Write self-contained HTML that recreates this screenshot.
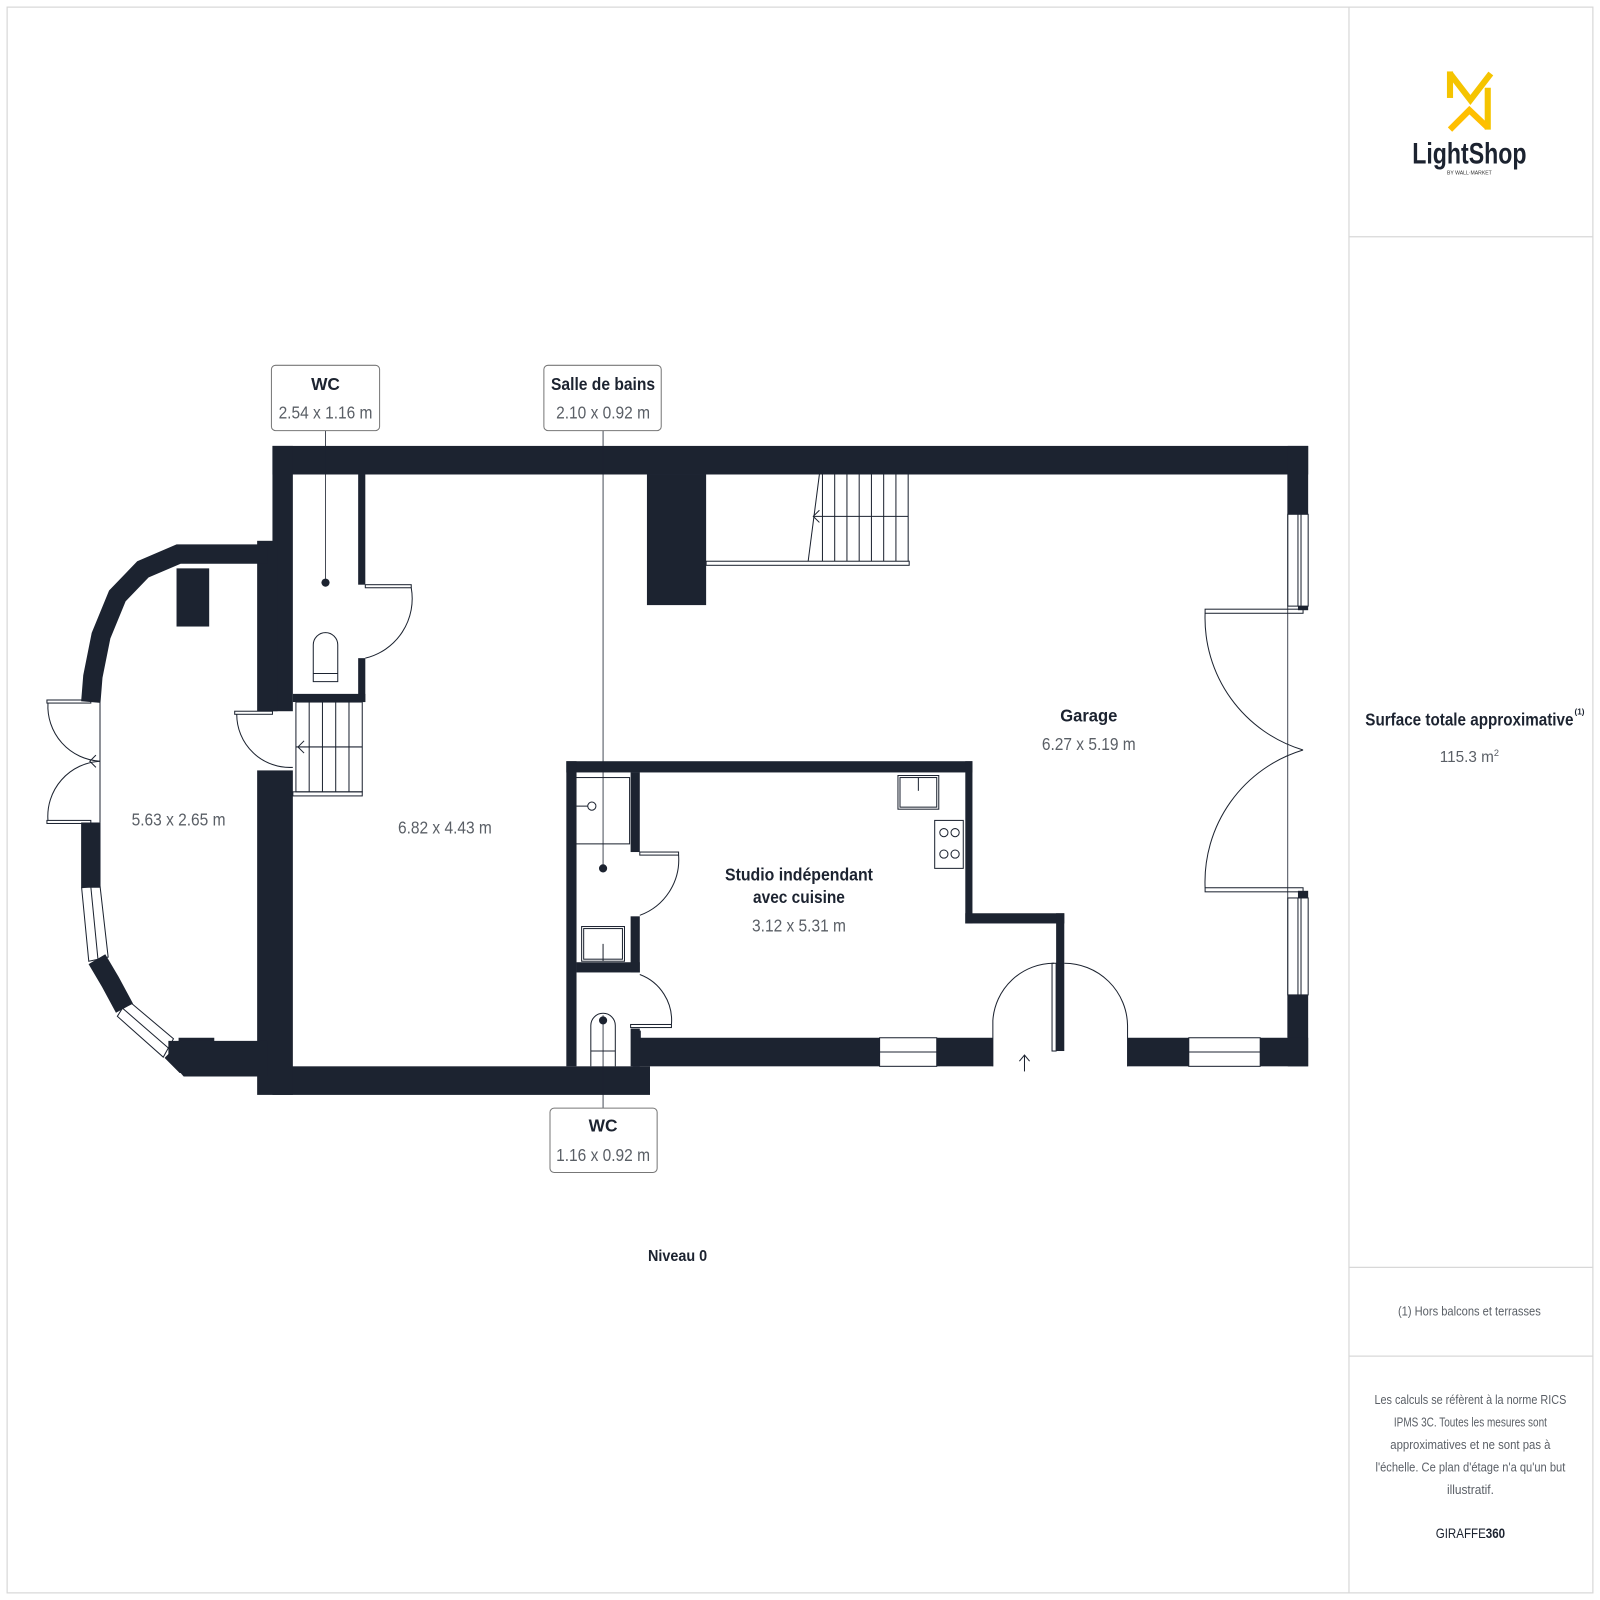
<!DOCTYPE html>
<html><head><meta charset="utf-8"><style>
html,body{margin:0;padding:0;background:#fff;width:1600px;height:1600px;overflow:hidden}
svg{display:block}
text{font-family:"Liberation Sans",sans-serif}
.b{font-weight:bold;fill:#1c2330}
.g{fill:#5a5f66}
</style></head><body>
<svg width="1600" height="1600" viewBox="0 0 1568 1568" xmlns="http://www.w3.org/2000/svg">
<rect x="7" y="7" width="1554" height="1554" fill="#fff" stroke="#d8d8d8" stroke-width="1.2"/>
<line x1="1322" y1="7" x2="1322" y2="1561" stroke="#d8d8d8" stroke-width="1.2"/>
<line x1="1322" y1="232" x2="1561" y2="232" stroke="#d8d8d8" stroke-width="1.2"/>
<line x1="1322" y1="1242" x2="1561" y2="1242" stroke="#d8d8d8" stroke-width="1.2"/>
<line x1="1322" y1="1329" x2="1561" y2="1329" stroke="#d8d8d8" stroke-width="1.2"/>

<!-- logo -->
<g fill="none" stroke="#f5c400" stroke-width="6" stroke-linejoin="miter">
<path d="M1421,70 L1421,96"/>
<path d="M1421,72 L1441,98 L1461,72"/>
<path d="M1458,86 L1458,127"/>
<path d="M1421,127 L1440,108 L1458,125" stroke="#ffbf00"/>
</g>
<text x="1440" y="160" text-anchor="middle" font-size="29" font-weight="bold" fill="#1c2330" textLength="112" lengthAdjust="spacingAndGlyphs">LightShop</text>
<text x="1440" y="171" text-anchor="middle" font-size="5" fill="#333">BY WALL·MARKET</text>

<text x="1440" y="711" text-anchor="middle" font-size="17" class="b" textLength="204" lengthAdjust="spacingAndGlyphs">Surface totale approximative</text>
<text x="1543" y="700" font-size="8" class="b">(1)</text>
<text x="1440" y="747" text-anchor="middle" font-size="15" class="g">115.3 m<tspan font-size="9" dy="-6">2</tspan></text>
<text x="1440" y="1289" text-anchor="middle" font-size="13" class="g" textLength="140" lengthAdjust="spacingAndGlyphs">(1) Hors balcons et terrasses</text>
<g font-size="13" class="g" text-anchor="middle">
<text x="1441" y="1376" textLength="188" lengthAdjust="spacingAndGlyphs">Les calculs se réfèrent à la norme RICS</text>
<text x="1441" y="1398" textLength="150" lengthAdjust="spacingAndGlyphs">IPMS 3C. Toutes les mesures sont</text>
<text x="1441" y="1420" textLength="157" lengthAdjust="spacingAndGlyphs">approximatives et ne sont pas à</text>
<text x="1441" y="1442" textLength="186" lengthAdjust="spacingAndGlyphs">l'échelle. Ce plan d'étage n'a qu'un but</text>
<text x="1441" y="1464" textLength="46" lengthAdjust="spacingAndGlyphs">illustratif.</text>
</g>
<text x="1441" y="1507" text-anchor="middle" font-size="14" fill="#1c2330" textLength="68" lengthAdjust="spacingAndGlyphs">GIRAFFE<tspan font-weight="bold">360</tspan></text>

<!-- walls -->
<g fill="#1c2330">
<rect x="267" y="437" width="1015" height="28"/>
<rect x="1262" y="437" width="20" height="67"/>
<rect x="1272" y="590" width="10" height="8"/>
<rect x="1272" y="873" width="10" height="8"/>
<rect x="1262" y="975" width="20" height="70"/>
<rect x="620" y="1017" width="242" height="28"/>
<rect x="918" y="1017" width="55" height="28"/>
<rect x="1105" y="1017" width="60" height="28"/>
<rect x="1235" y="1017" width="47" height="28"/>
<rect x="267" y="1045" width="370" height="28"/>
<rect x="620" y="1010" width="8" height="10"/>
<rect x="267" y="437" width="20" height="260"/>
<rect x="252" y="530" width="20" height="167"/>
<rect x="252" y="755" width="35" height="318"/>
<rect x="351" y="465" width="7" height="108"/>
<rect x="351" y="645" width="7" height="43"/>
<rect x="287" y="680" width="71" height="8"/>
<rect x="634" y="465" width="58" height="128"/>
<rect x="555" y="746" width="398" height="11"/>
<rect x="555" y="746" width="10" height="299"/>
<rect x="946" y="746" width="7" height="159"/>
<rect x="946" y="895" width="97" height="10"/>
<rect x="1035" y="895" width="8" height="135"/>
<rect x="618" y="757" width="9" height="78"/>
<rect x="618" y="898" width="9" height="55"/>
<rect x="565" y="943" width="62" height="10"/>
<rect x="618" y="1008" width="9" height="37"/>
<rect x="173" y="557" width="32" height="57"/>
<rect x="175" y="1017" width="35" height="12"/>
</g>
<!-- bay wall -->
<g fill="none" stroke="#1c2330" stroke-width="19" stroke-linejoin="miter">
<polyline points="262,543 175,543 140,558 115,584 99,623 91,663 89,688"/>
<polyline points="89,806 89,870"/>
<polyline points="95,940 108,962 122,988"/>
<polyline points="168,1030 180,1042 262,1042"/>
</g>
<polygon points="165,1020 262,1020 262,1055 180,1055 165,1038" fill="#1c2330"/>
<!-- bay windows -->
<g fill="none" stroke="#1c2330" stroke-width="1">
<polygon points="80,870 98,868 106,938 87,942"/>
<line x1="89" y1="869" x2="96" y2="940"/>
<polygon points="125,980 170,1018 160,1036 115,996"/>
<line x1="120" y1="988" x2="165" y2="1027"/>
</g>

<!-- windows on right and bottom -->
<g fill="#fff" stroke="#1c2330" stroke-width="1">
<rect x="1262" y="504" width="20" height="90"/>
<rect x="1262" y="880" width="20" height="95"/>
<rect x="862" y="1017" width="56" height="28"/>
<rect x="1165" y="1017" width="70" height="28"/>
</g>
<g stroke="#1c2330" stroke-width="1" fill="none">
<line x1="1272" y1="504" x2="1272" y2="594"/><line x1="1275" y1="504" x2="1275" y2="594"/>
<line x1="1272" y1="880" x2="1272" y2="975"/><line x1="1275" y1="880" x2="1275" y2="975"/>
<line x1="862" y1="1031" x2="918" y2="1031"/>
<line x1="1165" y1="1031" x2="1235" y2="1031"/>
<line x1="1262" y1="465" x2="1262" y2="1017" stroke-width="0.8"/>
<rect x="1181" y="597" width="96" height="4"/>
<rect x="1181" y="870" width="96" height="4"/>
<path d="M1181,601 A135,135 0 0 0 1277,735"/>
<path d="M1181,870 A135,135 0 0 1 1277,735"/>
<path d="M973,1045 L973,1000 A60,60 0 0 1 1033,944"/>
<path d="M1105,1045 L1105,1005 A62,62 0 0 0 1043,944"/>
<rect x="1031" y="944" width="4" height="86"/>
<line x1="1004" y1="1050" x2="1004" y2="1034"/><polyline points="999,1040 1004,1034 1009,1040"/>
<rect x="627" y="835" width="38" height="3"/>
<path d="M665,838 A58,58 0 0 1 627,897"/>
<rect x="618" y="1004" width="40" height="3"/>
<path d="M658,1004 A48,48 0 0 0 627,955"/>
<rect x="358" y="573" width="45" height="3"/>
<path d="M403,576 A60,60 0 0 1 358,645"/>
<rect x="230" y="697" width="37" height="3"/>
<path d="M232,700 A52,52 0 0 0 287,752"/>
<rect x="46" y="686" width="43" height="3"/>
<rect x="46" y="804" width="43" height="3"/>
<line x1="98" y1="688" x2="98" y2="806"/>
<path d="M47,689 A54,54 0 0 0 98,746"/>
<path d="M47,804 A54,54 0 0 1 98,746"/>
<polyline points="94,740 88,746 94,752"/>
<rect x="290" y="688" width="65" height="88"/>
<rect x="287" y="776" width="68" height="4"/>
<line x1="303" y1="688" x2="303" y2="776"/><line x1="316" y1="688" x2="316" y2="776"/><line x1="329" y1="688" x2="329" y2="776"/><line x1="342" y1="688" x2="342" y2="776"/>
<line x1="290" y1="732" x2="355" y2="732"/>
<polyline points="298,726 292,732 298,738"/>
<rect x="692" y="550" width="199" height="4"/>
<line x1="803" y1="465" x2="792" y2="550"/>
<line x1="806" y1="465" x2="806" y2="550"/><line x1="818" y1="465" x2="818" y2="550"/><line x1="830" y1="465" x2="830" y2="550"/><line x1="842" y1="465" x2="842" y2="550"/><line x1="854" y1="465" x2="854" y2="550"/><line x1="866" y1="465" x2="866" y2="550"/><line x1="878" y1="465" x2="878" y2="550"/><line x1="890" y1="465" x2="890" y2="550"/>
<line x1="798" y1="506" x2="890" y2="506"/>
<polyline points="803,500 797,506 803,512"/>
<path d="M307,668 L307,632 A12,12 0 0 1 331,632 L331,668 Z"/>
<line x1="307" y1="660" x2="331" y2="660"/>
<path d="M579,1045 L579,1005 A12,12 0 0 1 603,1005 L603,1045"/>
<line x1="579" y1="1030" x2="603" y2="1030"/>
<rect x="563" y="762" width="54" height="65"/>
<circle cx="580" cy="790" r="4"/><line x1="565" y1="790" x2="576" y2="790"/>
<rect x="570" y="908" width="42" height="34"/><rect x="572" y="910" width="38" height="30"/>
<line x1="591" y1="925" x2="591" y2="942"/>
<rect x="880" y="760" width="40" height="33"/><rect x="882" y="762" width="36" height="29"/>
<line x1="900" y1="762" x2="900" y2="775"/>
<rect x="916" y="804" width="28" height="47"/>
<circle cx="925" cy="816" r="4"/><circle cx="936" cy="816" r="4"/><circle cx="925" cy="837" r="4"/><circle cx="936" cy="837" r="4"/>
<line x1="319" y1="422" x2="319" y2="570" stroke-width="0.8"/>
<line x1="591" y1="422" x2="591" y2="850" stroke-width="0.8"/>
<line x1="591" y1="995" x2="591" y2="1086" stroke-width="0.8"/>
</g>
<circle cx="319" cy="571" r="4" fill="#1c2330"/>
<circle cx="591" cy="851" r="4" fill="#1c2330"/>
<circle cx="591" cy="1000" r="4" fill="#1c2330"/>

<g fill="#fff" stroke="#777" stroke-width="1">
<rect x="266" y="358" width="106" height="64" rx="4"/>
<rect x="533" y="358" width="115" height="64" rx="4"/>
<rect x="539" y="1086" width="105" height="63" rx="4"/>
</g>
<g text-anchor="middle">
<text x="319" y="382" font-size="17" class="b">WC</text>
<text x="319" y="410" font-size="17" class="g" textLength="92" lengthAdjust="spacingAndGlyphs">2.54 x 1.16 m</text>
<text x="591" y="382" font-size="17" class="b" textLength="102" lengthAdjust="spacingAndGlyphs">Salle de bains</text>
<text x="591" y="410" font-size="17" class="g" textLength="92" lengthAdjust="spacingAndGlyphs">2.10 x 0.92 m</text>
<text x="591" y="1109" font-size="17" class="b">WC</text>
<text x="591" y="1138" font-size="17" class="g" textLength="92" lengthAdjust="spacingAndGlyphs">1.16 x 0.92 m</text>
<text x="1067" y="707" font-size="17" class="b" textLength="56" lengthAdjust="spacingAndGlyphs">Garage</text>
<text x="1067" y="735" font-size="17" class="g" textLength="92" lengthAdjust="spacingAndGlyphs">6.27 x 5.19 m</text>
<text x="436" y="817" font-size="17" class="g" textLength="92" lengthAdjust="spacingAndGlyphs">6.82 x 4.43 m</text>
<text x="175" y="809" font-size="17" class="g" textLength="92" lengthAdjust="spacingAndGlyphs">5.63 x 2.65 m</text>
<text x="783" y="863" font-size="17" class="b" textLength="145" lengthAdjust="spacingAndGlyphs">Studio indépendant</text>
<text x="783" y="885" font-size="17" class="b" textLength="90" lengthAdjust="spacingAndGlyphs">avec cuisine</text>
<text x="783" y="913" font-size="17" class="g" textLength="92" lengthAdjust="spacingAndGlyphs">3.12 x 5.31 m</text>
<text x="664" y="1236" font-size="15" class="b" textLength="58" lengthAdjust="spacingAndGlyphs">Niveau 0</text>
</g>
</svg>
</body></html>
